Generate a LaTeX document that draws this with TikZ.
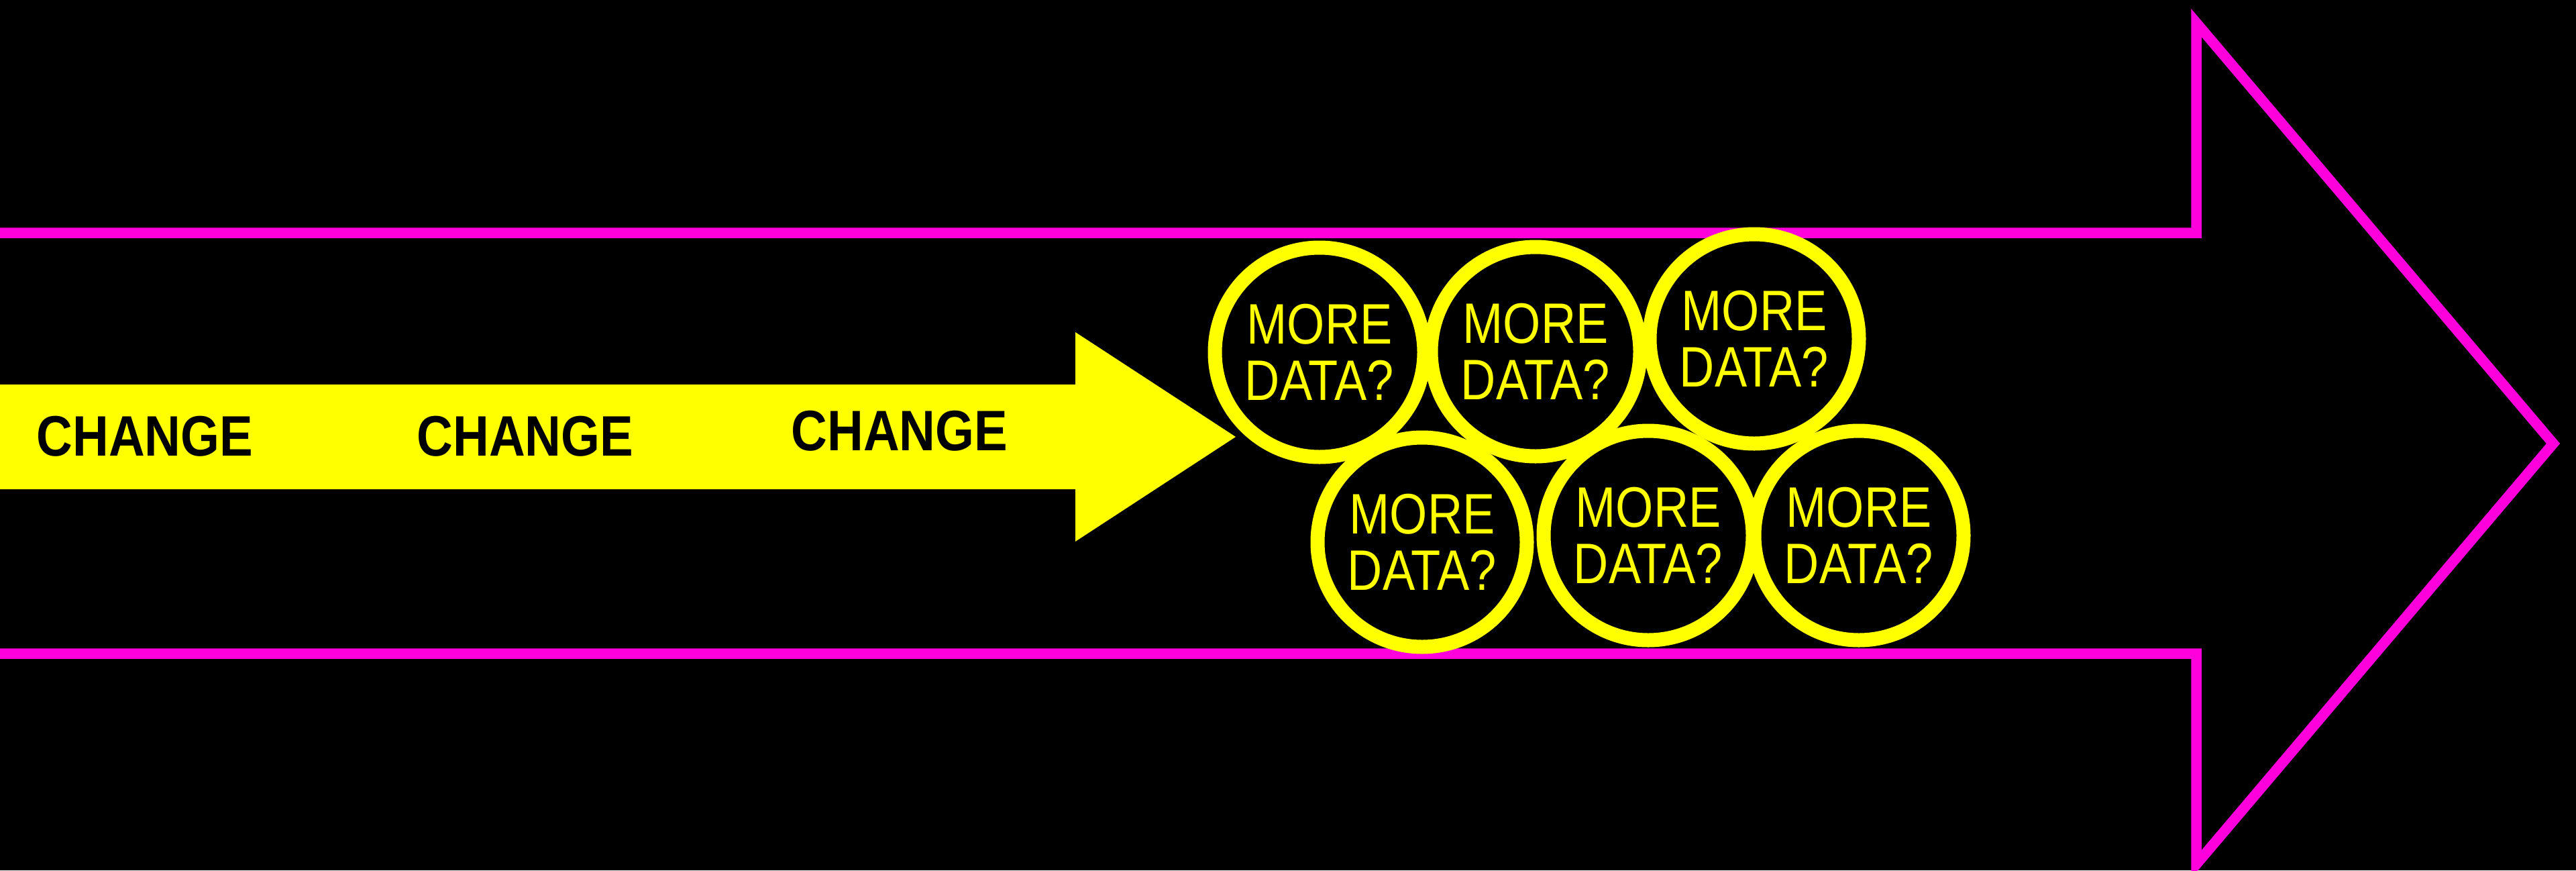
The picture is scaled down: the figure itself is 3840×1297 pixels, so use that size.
\documentclass[tikz,border=0pt]{standalone}
\usepackage{fontspec}
\newfontfamily\datafont[FakeStretch=0.85]{Liberation Sans}
\newfontfamily\changefont[FakeStretch=0.875]{Liberation Sans}
\usetikzlibrary{positioning}
\definecolor{flowpink}{RGB}{255,0,221}
\definecolor{flowyellow}{RGB}{255,255,0}

\begin{document}
\begin{tikzpicture}[x=0.1mm, y=-0.1mm,
    change/.style={text=black, inner sep=0pt,
      font=\changefont\bfseries\fontsize{24.2}{29}\selectfont},
    data/.style={circle, draw=flowyellow, fill=black, line width=2.1mm,
      minimum size=31.2mm, inner sep=0pt, text=flowyellow, align=center,
      font=\datafont\fontsize{24.2}{23.9}\selectfont}]
  \fill[black] (0,0) rectangle (3840,1297);
  \clip (0,0) rectangle (3840,1297);
  % big outline arrow
  \draw[flowpink, line width=1.55mm, line join=miter]
    (-20,347) -- (3274,347) -- (3274,34) -- (3806,661)
    -- (3274,1288) -- (3274,974) -- (-20,974);
  % yellow arrow
  \fill[flowyellow] (-20,573) -- (1603,573) -- (1603,495) -- (1842,651)
    -- (1603,807) -- (1603,729) -- (-20,729) -- cycle;
  \node[change] (change1) at (216,650) {CHANGE};
  \node[change] (change2) at (783,650) {CHANGE};
  \node[change] (change3) at (1341,642) {CHANGE};
  % circles
  \node[data] (data1) at (1967,525) {MORE\\DATA?};
  \node[data] (data2) at (2289,524) {MORE\\DATA?};
  \node[data] (data3) at (2615,505) {MORE\\DATA?};
  \node[data] (data4) at (2120,808) {MORE\\DATA?};
  \node[data] (data5) at (2457,798) {MORE\\DATA?};
  \node[data] (data6) at (2771,798) {MORE\\DATA?};
\end{tikzpicture}
\end{document}
